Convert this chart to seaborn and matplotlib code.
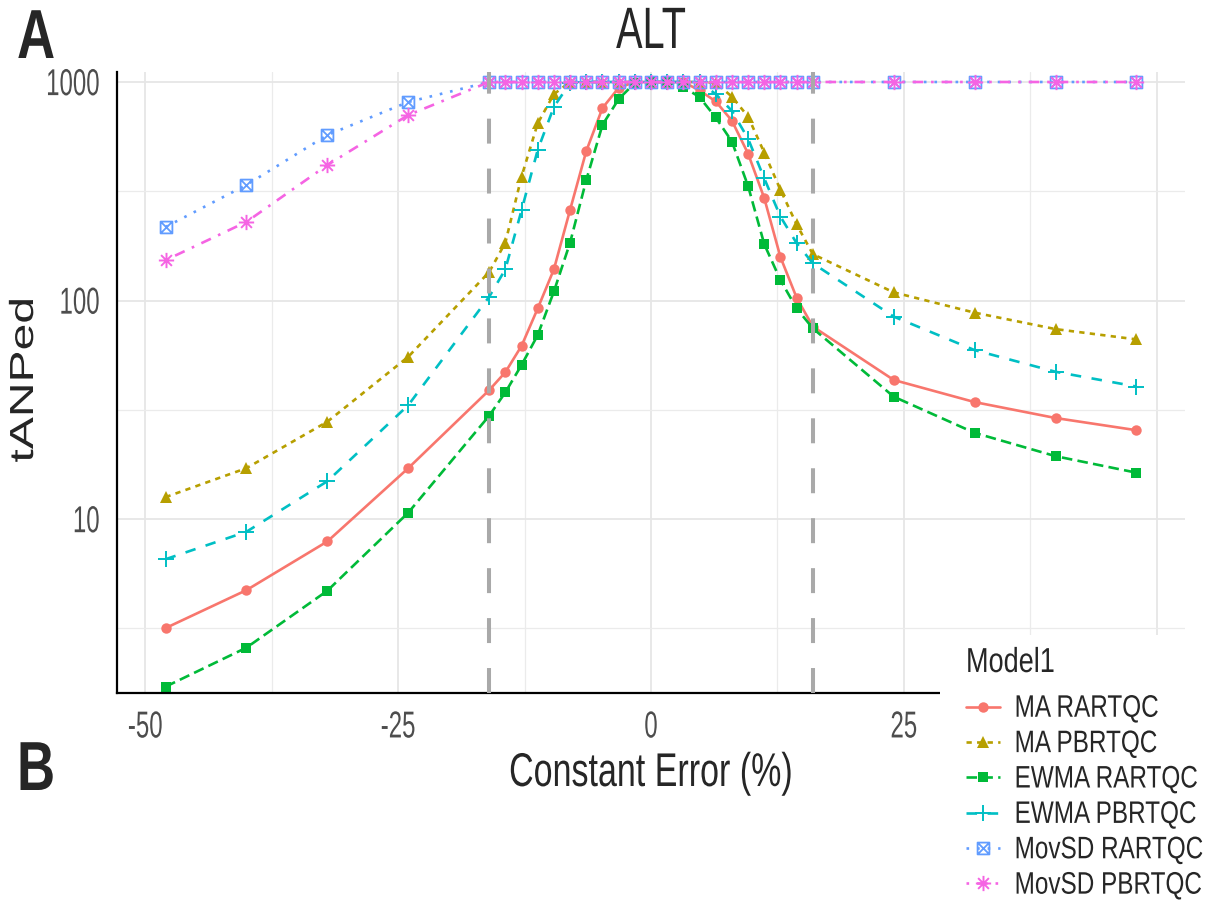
import matplotlib
matplotlib.use("Agg")
import matplotlib.pyplot as plt
import seaborn as sns
from matplotlib.path import Path
from matplotlib.transforms import Affine2D
from matplotlib import patheffects
from matplotlib.ticker import FixedLocator, NullFormatter
from matplotlib.patches import Rectangle

# ---------------------------------------------------------------- data
constant_error = [-48, -40, -32, -24, -16, -14.4, -12.8, -11.2, -9.6, -8, -6.4, -4.8,
                  -3.2, -1.6, 0, 1.6, 3.2, 4.8, 6.4, 8, 9.6, 11.2, 12.8, 14.4, 16,
                  24, 32, 40, 48]

ma_rartqc = [3.17, 4.73, 7.9, 17.1, 38.9, 47, 62, 92, 139, 260, 483, 760,
             940, 1000, 1000, 1000, 1000, 915, 815, 665, 470, 294, 158, 103, 76,
             43.3, 34.3, 29, 25.5]
ma_pbrtqc = [12.6, 17.1, 27.9, 55.3, 135, 184, 369, 647, 880, 1000, 1000, 1000,
             1000, 1000, 1000, 1000, 1000, 1000, 990, 857, 694, 475, 321, 223, 163,
             109, 88, 74, 66.4]
ewma_rartqc = [1.71, 2.58, 4.70, 10.7, 29.7, 38, 50.7, 69.5, 110, 184, 356, 636,
               835, 990, 1000, 1000, 950, 852, 688, 534, 334, 181, 124, 92, 74.6,
               36.3, 24.8, 19.4, 16.3]
ewma_pbrtqc = [6.55, 8.75, 14.9, 33.2, 104, 139, 259, 489, 770, 990, 1000, 1000,
               1000, 1000, 1000, 1000, 1000, 1000, 880, 738, 550, 362, 242, 183, 148,
               84.4, 59.3, 47.2, 40.4]
movsd_rartqc = [217, 338, 572, 810, 1000, 1000, 1000, 1000, 1000, 1000, 1000, 1000,
                1000, 1000, 1000, 1000, 1000, 1000, 1000, 1000, 1000, 1000, 1000, 1000, 1000,
                1000, 1000, 1000, 1000]
movsd_pbrtqc = [153, 229, 417, 706, 1000, 1000, 1000, 1000, 1000, 1000, 1000, 1000,
                1000, 1000, 1000, 1000, 1000, 1000, 1000, 1000, 1000, 1000, 1000, 1000, 1000,
                1000, 1000, 1000, 1000]

model_names = ["MA RARTQC", "MA PBRTQC", "EWMA RARTQC", "EWMA PBRTQC",
               "MovSD RARTQC", "MovSD PBRTQC"]
series = [ma_rartqc, ma_pbrtqc, ewma_rartqc, ewma_pbrtqc, movsd_rartqc, movsd_pbrtqc]

limit_lines = [-16, 16]
x_ticks = [-50, -25, 0, 25, 50]
x_tick_labels = ["-50", "-25", "0", "25", ""]   # the 50 label sits under the legend
x_minor = [-37.5, -12.5, 12.5, 37.5]
y_ticks = [10, 100, 1000]
y_tick_labels = ["10", "100", "1000"]
y_minor = [10 ** 0.5, 10 ** 1.5, 10 ** 2.5]

# ---------------------------------------------------------------- styles
MOVE, LINE, CLOSE = Path.MOVETO, Path.LINETO, Path.CLOSEPOLY
square_cross = Path([(-1, -1), (1, -1), (1, 1), (-1, 1), (-1, -1),
                     (-1, -1), (1, 1), (-1, 1), (1, -1)],
                    [MOVE, LINE, LINE, LINE, CLOSE, MOVE, LINE, MOVE, LINE])
d = 0.7071
asterisk = Path([(-1, 0), (1, 0), (0, -1), (0, 1), (-d, -d), (d, d), (-d, d), (d, -d)],
                [MOVE, LINE] * 4)

styles = [
    dict(color="#F8766D", ls="-", marker="o", ms=7.5, mfc=None, mew=0),
    dict(color="#B79F00", ls=(0, (2, 2)), marker="^", ms=8.5, mfc=None, mew=0),
    dict(color="#00BA38", ls=(0, (4, 2)), marker="s", ms=6.5, mfc=None, mew=0),
    dict(color="#00BFC4", ls=(0, (4, 4)), marker="+", ms=11, mfc="none", mew=1.4),
    dict(color="#619CFF", ls=(0, (1, 3)), marker=square_cross, ms=8.5, mfc="none", mew=1.3),
    dict(color="#F564E3", ls=(0, (1, 3, 4, 3)), marker=asterisk, ms=11, mfc="none", mew=1.4),
]


class Stretch(patheffects.AbstractPathEffect):
    """Tall, condensed lettering: scale glyph outlines perpendicular to the
    text direction about a pivot line (baseline, glyph centre or glyph top)."""

    def __init__(self, sy, pivot="baseline"):
        super().__init__()
        self._sy = sy
        self._pivot = pivot

    def draw_path(self, renderer, gc, tpath, affine, rgbFace=None):
        ext = tpath.get_extents()
        if self._pivot == "center":
            y0 = 0.5 * (ext.y0 + ext.y1)
        elif self._pivot == "top":
            y0 = ext.y1
        else:
            y0 = 0.0
        t = Affine2D().translate(0, -y0).scale(1, self._sy).translate(0, y0)
        renderer.draw_path(gc, tpath, t + affine, rgbFace)


sns.set_style("white")
plt.rcParams["font.family"] = ["Liberation Sans", "DejaVu Sans"]

W, H = 1229, 902
fig = plt.figure(figsize=(W / 100, H / 100), dpi=100)
ax = fig.add_axes([117 / W, 209 / H, 1068 / W, 621 / H])
ax.set_yscale("log")

for name, values, st in zip(model_names, series, styles):
    mfc = st["color"] if st["mfc"] is None else st["mfc"]
    sns.lineplot(x=constant_error, y=values, ax=ax, color=st["color"],
                 linestyle=st["ls"], linewidth=1.9, marker=st["marker"],
                 markersize=st["ms"], markeredgecolor=st["color"],
                 markerfacecolor=mfc, markeredgewidth=st["mew"],
                 errorbar=None, sort=False, legend=False)
handles = list(ax.lines[:len(model_names)])

for xv in limit_lines:
    ax.axvline(xv, color="#A9A9A9", lw=2.9, linestyle=(0, (6.2, 6.2)), zorder=4)

ax.set_xlim(-52.8, 52.8)
ax.set_ylim(1.6, 1111)

ax.xaxis.set_major_locator(FixedLocator(x_ticks))
ax.set_xticklabels(x_tick_labels)
ax.xaxis.set_minor_locator(FixedLocator(x_minor))
ax.yaxis.set_major_locator(FixedLocator(y_ticks))
ax.set_yticklabels(y_tick_labels)
ax.yaxis.set_minor_locator(FixedLocator(y_minor))
ax.yaxis.set_minor_formatter(NullFormatter())
ax.xaxis.set_minor_formatter(NullFormatter())

ax.set_axisbelow(True)
ax.grid(which="major", color="#E6E6E6", lw=1.3)
ax.grid(which="minor", color="#EBEBEB", lw=0.9)

for s in ("top", "right"):
    ax.spines[s].set_visible(False)
for s in ("left", "bottom"):
    ax.spines[s].set_color("black")
    ax.spines[s].set_linewidth(1.6)

ax.tick_params(axis="both", which="major", direction="out", length=3, width=1,
               color="#555555", labelsize=17.3, labelcolor="#4D4D4D")
ax.tick_params(axis="x", which="major", pad=10)
ax.tick_params(axis="y", which="major", pad=9.5)
ax.tick_params(which="minor", length=0)

for t in ax.get_xticklabels():
    t.set_path_effects([Stretch(1.56, "top")])
for t in ax.get_yticklabels():
    t.set_path_effects([Stretch(1.56, "center")])

ax.set_title("ALT", fontsize=28.6, pad=0, y=(854 - 209) / 621, va="baseline",
             path_effects=[Stretch(1.47)])

ax.set_xlabel("Constant Error (%)", fontsize=24.5, path_effects=[Stretch(1.39)])
ax.xaxis.set_label_coords(0.5, (116 - 209) / 621)
ax.xaxis.label.set_va("baseline")

ax.set_ylabel("tANPed", fontsize=34.6, path_effects=[Stretch(0.694)])
ax.yaxis.set_label_coords((33 - 117) / 1068, (H - 380 - 209) / 621)
ax.yaxis.label.set_va("baseline")

# white block behind the legend
fig.add_artist(Rectangle((940 / W, 0), 1 - 940 / W, (H - 635) / H,
                         transform=fig.transFigure, facecolor="white",
                         edgecolor="none", zorder=1))

leg_fs = 17.5
leg = fig.legend(handles, model_names, title="Model1", loc="upper left",
                 bbox_to_anchor=(966 / W, 1 - 652 / H), frameon=False,
                 fontsize=leg_fs, title_fontsize=19.5, alignment="left",
                 handlelength=1.39, handletextpad=0.61, labelspacing=0.55,
                 borderpad=0, borderaxespad=0)
leg.set_zorder(5)
if hasattr(leg, "_legend_box"):
    leg._legend_box.sep = 14.4   # extra room between the title and the keys
for t in leg.get_texts():
    t.set_path_effects([Stretch(1.28, "center")])
leg.get_title().set_path_effects([Stretch(1.28)])

for letter, base in (("A", 58), ("B", 790)):
    fig.text(17 / W, 1 - base / H, letter, fontsize=38, fontweight="bold",
             va="baseline", ha="left", path_effects=[Stretch(1.316)])

fig.savefig("out.png", dpi=100)
